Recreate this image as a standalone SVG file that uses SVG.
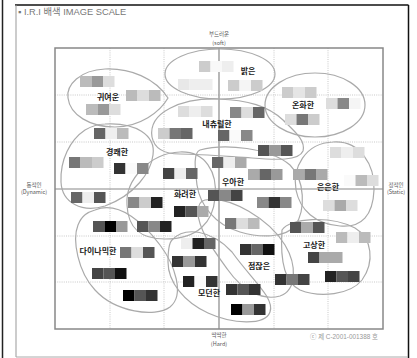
<svg xmlns="http://www.w3.org/2000/svg" width="417" height="358" viewBox="0 0 417 358">
<style>
.bg{fill:#fff}
.frame{stroke:#888;stroke-width:1.5;fill:none}
.axis{stroke:#888;stroke-width:1.2}
.grid{stroke:#bbb;stroke-width:0.8;stroke-dasharray:1 1.2}
.blob{fill:none;stroke:#aaa;stroke-width:1.2}
.lbl{font-family:"Noto Sans CJK KR","Noto Sans",sans-serif;font-size:8px;font-weight:bold;fill:#222;text-anchor:middle}
.ax{font-family:"Noto Sans CJK KR","Liberation Sans",sans-serif;font-size:5.5px;fill:#555;text-anchor:middle}
.title{font-family:"Liberation Sans","Noto Sans CJK KR",sans-serif;font-size:9.3px;fill:#777}
.copy{font-family:"Liberation Sans","Noto Sans CJK KR",sans-serif;font-size:6.4px;fill:#999}
.sw rect{width:11.5px;height:11px}
</style>
<rect class="bg" x="0" y="0" width="417" height="358"/>
<line x1="2.5" y1="0" x2="2.5" y2="358" stroke="#222" stroke-width="1.5"/>
<line x1="15" y1="5" x2="408.5" y2="5" stroke="#111" stroke-width="1.5"/>
<line x1="408.5" y1="5" x2="408.5" y2="358" stroke="#111" stroke-width="1.5"/>
<line x1="16" y1="5" x2="16" y2="357" stroke="#999" stroke-width="1"/>
<line x1="16" y1="357" x2="408" y2="357" stroke="#aaa" stroke-width="1"/>
<text class="title" x="18" y="15">▪ I.R.I 배색 IMAGE SCALE</text>

<g id="grid">
<line class="grid" x1="110" y1="48" x2="110" y2="329"/>
<line class="grid" x1="164" y1="48" x2="164" y2="329"/>
<line class="grid" x1="274" y1="48" x2="274" y2="329"/>
<line class="grid" x1="328" y1="48" x2="328" y2="329"/>
<line class="grid" x1="55" y1="95" x2="383" y2="95"/>
<line class="grid" x1="55" y1="142" x2="383" y2="142"/>
<line class="grid" x1="55" y1="236" x2="383" y2="236"/>
<line class="grid" x1="55" y1="282" x2="383" y2="282"/>
<line class="axis" x1="219" y1="48" x2="219" y2="329"/>
<line class="axis" x1="55" y1="189" x2="383" y2="189"/>
<rect class="frame" x="55" y="48" width="328" height="281"/>
</g>

<g id="axis-labels">
<text class="ax" x="219" y="36">부드러운</text>
<text class="ax" x="219" y="45">(soft)</text>
<text class="ax" x="219" y="337">딱딱한</text>
<text class="ax" x="219" y="346">(Hard)</text>
<text class="ax" x="34" y="187">동적인</text>
<text class="ax" x="34" y="194">(Dynamic)</text>
<text class="ax" x="396" y="187">정적인</text>
<text class="ax" x="396" y="194">(Static)</text>
<text class="copy" x="310" y="339">ⓒ 제 C-2001-001388 호</text>
</g>

<g id="blobs">
<path id="b-cute" class="blob" d="M168,98 C155,78 130,68 105,69 C80,70 66,85 68,98 C70,115 90,127 115,127 C140,127 160,112 168,98 Z"/>
<ellipse id="b-bright" class="blob" cx="220" cy="74" rx="55" ry="25"/>
<ellipse id="b-gentle" class="blob" cx="315" cy="105" rx="50" ry="32"/>
<path id="b-natural" class="blob" d="M152,137 C148,112 182,98 218,99 C248,100 268,106 283,120 C293,130 306,140 303,151 C299,161 276,160 252,158 C222,156 200,154 180,154 C162,154 154,147 152,137 Z"/>
<path id="b-casual" class="blob" d="M105,124 C135,122 156,135 153,155 C151,172 135,195 105,206 C82,213 62,203 61,182 C60,160 70,140 85,130 C92,126 98,124 105,124 Z"/>
<path id="b-gorgeous" class="blob" d="M127,205 C125,180 150,153 180,152 C205,151 218,172 215,198 C213,222 198,239 165,239 C140,239 128,228 127,205 Z"/>
<path id="b-elegant" class="blob" d="M200,150 C225,143 270,148 290,165 C305,180 306,210 295,226 C285,238 260,238 240,232 C215,225 200,205 197,185 C195,168 193,153 200,150 Z"/>
<path id="b-subtle" class="blob" d="M333,142 C360,140 375,165 374,190 C373,215 362,228 340,226 C315,224 300,210 296,190 C292,168 305,143 333,142 Z"/>
<path id="b-dynamic" class="blob" d="M95,210 C120,200 145,225 160,245 C175,265 185,295 170,307 C155,318 115,312 95,290 C78,272 72,240 78,225 C82,215 88,212 95,210 Z"/>
<path id="b-modern" class="blob" d="M172,240 C185,226 212,230 232,252 C252,280 275,298 270,312 C265,326 232,324 208,313 C184,302 168,282 168,262 C168,250 169,243 172,240 Z"/>
<path id="b-dignified" class="blob" d="M205,200 C230,195 270,220 285,245 C297,265 297,290 280,296 C262,301 242,290 228,270 C215,252 198,230 198,212 C198,205 200,201 205,200 Z"/>
<path id="b-noble" class="blob" d="M282,230 C290,218 330,215 355,228 C372,238 375,262 362,280 C350,295 320,298 300,290 C285,283 280,260 282,230 Z"/>
</g>

<g id="swatches" class="sw">
<g transform="translate(80,76)"><rect x="0" fill="#bbb"/><rect x="11.5" fill="#999"/><rect x="23" fill="#ddd"/></g>
<g transform="translate(126,90)"><rect x="0" fill="#bbb"/><rect x="11.5" fill="#ddd"/><rect x="23" fill="#bbb"/></g>
<g transform="translate(86,104)"><rect x="0" fill="#bbb"/><rect x="11.5" fill="#999"/><rect x="23" fill="#ddd"/></g>
<g transform="translate(199,61)"><rect x="0" fill="#ccc"/><rect x="11.5" fill="#f8f8f8"/><rect x="23" fill="#eee"/></g>
<g transform="translate(178,79)"><rect x="0" fill="#e8e8e8"/><rect x="11.5" fill="#eee"/><rect x="23" fill="#eee"/></g>
<g transform="translate(228,80)"><rect x="0" fill="#ccc"/><rect x="11.5" fill="#f5f5f5"/><rect x="23" fill="#ccc"/></g>
<g transform="translate(282,87)"><rect x="0" fill="#ccc"/><rect x="11.5" fill="#e5e5e5"/><rect x="23" fill="#ccc"/></g>
<g transform="translate(326,98)"><rect x="0" fill="#ddd"/><rect x="11.5" fill="#888"/><rect x="23" fill="#f5f5f5"/></g>
<g transform="translate(285,114)"><rect x="0" fill="#ddd"/><rect x="11.5" fill="#777"/><rect x="23" fill="#ccc"/></g>
<g transform="translate(178,106)"><rect x="0" fill="#ddd"/><rect x="11.5" fill="#eee"/><rect x="23" fill="#ddd"/></g>
<g transform="translate(230,107)"><rect x="0" fill="#888"/><rect x="11.5" fill="#ddd"/><rect x="23" fill="#666"/></g>
<g transform="translate(158,128)"><rect x="0" fill="#ccc"/><rect x="11.5" fill="#777"/><rect x="23" fill="#666"/></g>
<g transform="translate(218,130)"><rect x="0" fill="#666"/><rect x="11.5" fill="#fafafa"/><rect x="23" fill="#888"/></g>
<g transform="translate(258,145)"><rect x="0" fill="#555"/><rect x="11.5" fill="#999"/><rect x="23" fill="#555"/></g>
<g transform="translate(94,128)"><rect x="0" fill="#666"/><rect x="11.5" fill="#f0f0f0"/><rect x="23" fill="#bbb"/></g>
<g transform="translate(69,157)"><rect x="0" fill="#777"/><rect x="11.5" fill="#bbb"/><rect x="23" fill="#ccc"/></g>
<g transform="translate(114,163)"><rect x="0" fill="#333"/><rect x="11.5" fill="#fafafa"/><rect x="23" fill="#888"/></g>
<g transform="translate(71,192)"><rect x="0" fill="#666"/><rect x="11.5" fill="#eee"/><rect x="23" fill="#555"/></g>
<g transform="translate(163,168)"><rect x="0" fill="#444"/><rect x="11.5" fill="#eee"/><rect x="23" fill="#666"/></g>
<g transform="translate(128,197)"><rect x="0" fill="#888"/><rect x="11.5" fill="#ccc"/><rect x="23" fill="#222"/></g>
<g transform="translate(174,206)"><rect x="0" fill="#222"/><rect x="11.5" fill="#555"/><rect x="23" fill="#aaa"/></g>
<g transform="translate(137,221)"><rect x="0" fill="#555"/><rect x="11.5" fill="#888"/><rect x="23" fill="#222"/></g>
<g transform="translate(93,221)"><rect x="0" fill="#555"/><rect x="11.5" fill="#000"/><rect x="23" fill="#999"/></g>
<g transform="translate(120,247)"><rect x="0" fill="#777"/><rect x="11.5" fill="#ddd"/><rect x="23" fill="#555"/></g>
<g transform="translate(92,268)"><rect x="0" fill="#444"/><rect x="11.5" fill="#555"/><rect x="23" fill="#111"/></g>
<g transform="translate(123,290)"><rect x="0" fill="#000"/><rect x="11.5" fill="#555"/><rect x="23" fill="#333"/></g>
<g transform="translate(212,157)"><rect x="0" fill="#666"/><rect x="11.5" fill="#eee"/><rect x="23" fill="#aaa"/></g>
<g transform="translate(248,169)"><rect x="0" fill="#aaa"/><rect x="11.5" fill="#666"/><rect x="23" fill="#999"/></g>
<g transform="translate(208,190)"><rect x="0" fill="#555"/><rect x="11.5" fill="#888"/><rect x="23" fill="#444"/></g>
<g transform="translate(257,197)"><rect x="0" fill="#888"/><rect x="11.5" fill="#333"/><rect x="23" fill="#888"/></g>
<g transform="translate(225,218)"><rect x="0" fill="#777"/><rect x="11.5" fill="#ddd"/><rect x="23" fill="#bbb"/></g>
<g transform="translate(330,147)"><rect x="0" fill="#ddd"/><rect x="11.5" fill="#eee"/><rect x="23" fill="#ddd"/></g>
<g transform="translate(293,169)"><rect x="0" fill="#aaa"/><rect x="11.5" fill="#777"/><rect x="23" fill="#aaa"/></g>
<g transform="translate(344,175)"><rect x="0" fill="#fafafa"/><rect x="11.5" fill="#bbb"/><rect x="23" fill="#ddd"/></g>
<g transform="translate(323,200)"><rect x="0" fill="#ddd"/><rect x="11.5" fill="#aaa"/><rect x="23" fill="#ddd"/></g>
<g transform="translate(290,222)"><rect x="0" fill="#555"/><rect x="11.5" fill="#aaa"/><rect x="23" fill="#555"/></g>
<g transform="translate(336,232)"><rect x="0" fill="#bbb"/><rect x="11.5" fill="#eee"/><rect x="23" fill="#bbb"/></g>
<g transform="translate(308,252)"><rect x="0" fill="#444"/><rect x="11.5" fill="#aaa"/><rect x="23" fill="#aaa"/></g>
<g transform="translate(325,271)"><rect x="0" fill="#222"/><rect x="11.5" fill="#555"/><rect x="23" fill="#444"/></g>
<g transform="translate(275,274)"><rect x="0" fill="#333"/><rect x="11.5" fill="#777"/><rect x="23" fill="#444"/></g>
<g transform="translate(240,244)"><rect x="0" fill="#333"/><rect x="11.5" fill="#666"/><rect x="23" fill="#111"/></g>
<g transform="translate(181,238)"><rect x="0" fill="#eee"/><rect x="11.5" fill="#222"/><rect x="23" fill="#666"/></g>
<g transform="translate(172,256)"><rect x="0" fill="#333"/><rect x="11.5" fill="#999"/><rect x="23" fill="#333"/></g>
<g transform="translate(183,276)"><rect x="0" fill="#222"/><rect x="11.5" fill="#fafafa"/><rect x="23" fill="#333"/></g>
<g transform="translate(226,284)"><rect x="0" fill="#333"/><rect x="11.5" fill="#555"/><rect x="23" fill="#333"/></g>
<g transform="translate(231,304)"><rect x="0" fill="#000"/><rect x="11.5" fill="#999"/><rect x="23" fill="#333"/></g>
</g>

<g id="labels">
<text id="n-cute" class="lbl" x="108" y="100">귀여운</text>
<text id="n-bright" class="lbl" x="248" y="74">밝은</text>
<text id="n-gentle" class="lbl" x="303" y="108">온화한</text>
<text id="n-natural" class="lbl" x="217" y="127">내츄럴한</text>
<text id="n-casual" class="lbl" x="117" y="155">경쾌한</text>
<text id="n-elegant" class="lbl" x="233" y="185">우아한</text>
<text id="n-subtle" class="lbl" x="328" y="190">은은한</text>
<text id="n-gorgeous" class="lbl" x="185" y="197">화려한</text>
<text id="n-dynamic" class="lbl" x="98" y="254">다이나믹한</text>
<text id="n-modern" class="lbl" x="209" y="296">모던한</text>
<text id="n-noble" class="lbl" x="314" y="248">고상한</text>
<text id="n-dignified" class="lbl" x="259" y="269">점잖은</text>
</g>
</svg>
